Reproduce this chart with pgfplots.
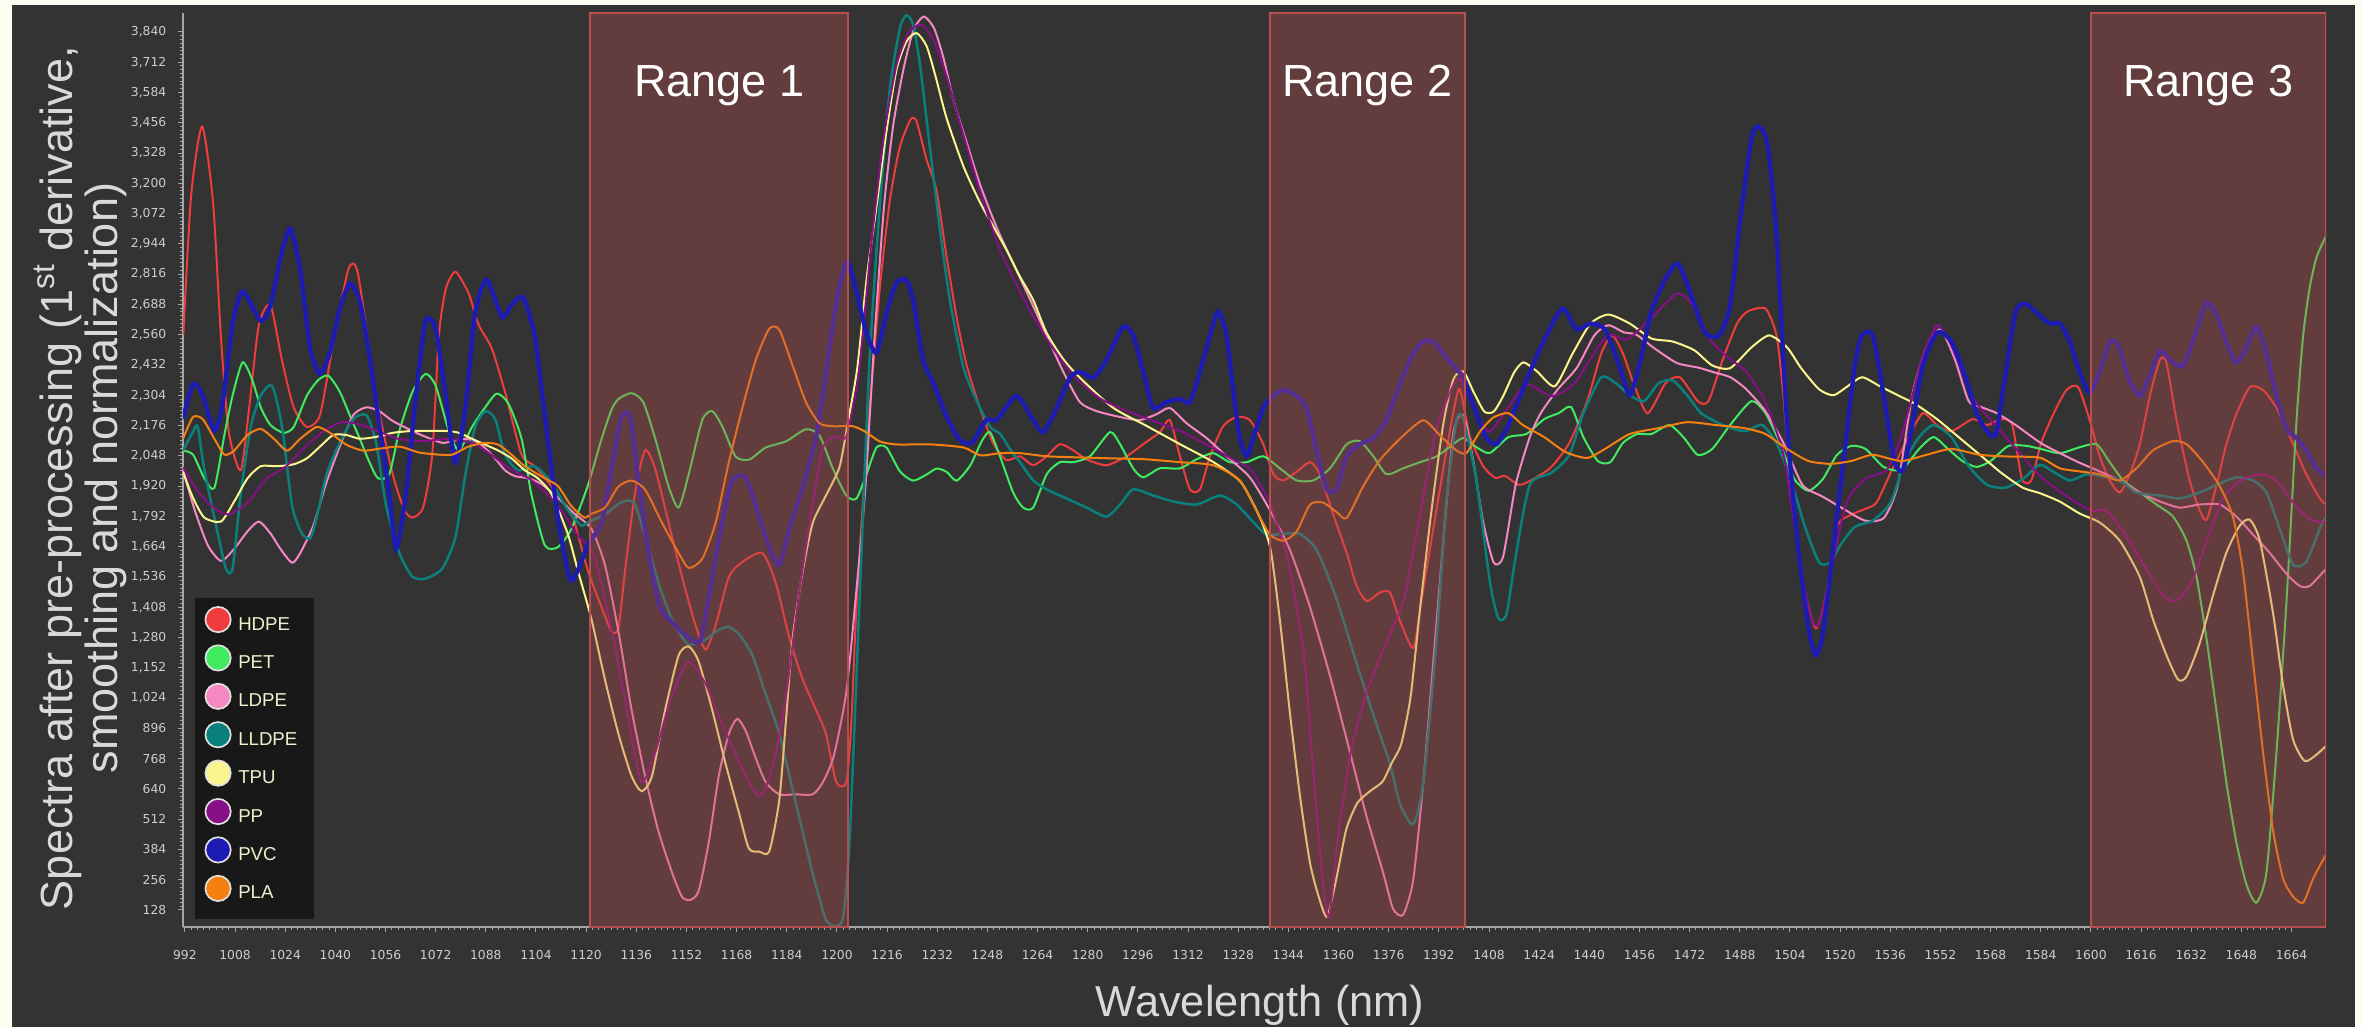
\documentclass[border=0pt]{standalone}
\usepackage{pgfplots}
\pgfplotsset{compat=1.18}
\usepackage{fontspec}
\setmainfont{Liberation Sans}
\newfontfamily\tickfont{DejaVu Sans}
\definecolor{creambg}{RGB}{252,252,240}
\definecolor{darkbg}{RGB}{51,51,51}
\definecolor{axisgray}{RGB}{165,165,165}
\definecolor{ticktext}{RGB}{205,205,205}
\definecolor{labelgray}{RGB}{217,217,217}
\definecolor{legendbg}{RGB}{24,24,24}
\definecolor{legendtext}{RGB}{240,240,205}
\definecolor{rangefill}{RGB}{190,80,80}
\definecolor{rangeedge}{RGB}{185,78,78}
\definecolor{legendring}{RGB}{225,225,225}
\definecolor{cHDPE}{RGB}{240,60,60}
\definecolor{cPET}{RGB}{64,235,96}
\definecolor{cLDPE}{RGB}{245,135,195}
\definecolor{cLLDPE}{RGB}{10,128,124}
\definecolor{cTPU}{RGB}{250,245,140}
\definecolor{cPP}{RGB}{135,15,135}
\definecolor{cPVC}{RGB}{28,28,180}
\definecolor{cPLA}{RGB}{245,128,15}
\begin{document}
\begin{tikzpicture}
\fill[creambg] (0pt,0pt) rectangle (708.6pt,308.1pt);
\fill[darkbg] (3.6pt,0pt) rectangle (706.5pt,306.6pt);
\begin{axis}[
  at={(54.9pt,30pt)}, anchor=south west,
  scale only axis, width=642.9pt, height=274.2pt,
  xmin=991.4, xmax=1675, ymin=56, ymax=3920,
  axis lines*=left,
  axis line style={-, draw=axisgray, line width=0.6pt},
  xtick={992,1008,...,1664},
  ytick={128,256,...,3840},
  minor x tick num=7, minor y tick num=7,
  tick align=outside,
  major tick length=1.5pt, minor tick length=0.8pt,
  tick style={draw=axisgray, line width=0.3pt},
  tick label style={font=\tickfont\fontsize{3.7}{4}\selectfont, text=ticktext},
  /pgf/number format/assume math mode=true,
  /pgf/number format/1000 sep={,},
  x tick label style={/pgf/number format/1000 sep={}, yshift=-2pt},
  every axis plot/.append style={line width=0.6pt, smooth, tension=0.4},
  legend cell align=left,
  legend style={at={(rel axis cs:0.0051,0.361)}, anchor=north west,
    fill=legendbg, draw=none, text=legendtext,
    font=\fontsize{5.6}{6.5}\selectfont,
    inner xsep=3pt, inner ysep=2.5pt, row sep=0.8pt,
    /tikz/every even column/.append style={column sep=5pt}},
  legend image code/.code={\filldraw[#1, draw=legendring, line width=0.5pt] (0.12cm,0.07cm) circle (3.8pt);},
]
\addplot[color=cHDPE] coordinates {(991.5,2560)(994,3150)(997.5,3440)(1001,3117)(1003.5,2550)(1006,2150)(1009.8,1987)(1012.5,2250)(1015.6,2602)(1019.3,2685)(1023,2450)(1026.7,2253)(1030.9,2170)(1035.1,2220)(1039,2500)(1044.1,2834)(1047.2,2818)(1053,2302)(1058.3,1970)(1062,1820)(1064.6,1787)(1068,1830)(1070.9,2053)(1073,2552)(1075.2,2752)(1078.3,2826)(1082.5,2735)(1085.7,2602)(1089.9,2502)(1094.1,2319)(1099.4,2053)(1103.6,2004)(1108.9,1920)(1115.2,1804)(1117.4,1714)(1120.6,1561)(1124.9,1408)(1128.1,1306)(1130.3,1320)(1132.4,1561)(1135.6,1892)(1138.8,2071)(1142,1994)(1146.3,1765)(1150.6,1535)(1154.9,1331)(1158.1,1229)(1161.3,1331)(1165.5,1535)(1169.8,1599)(1176.2,1637)(1180.5,1510)(1184.8,1280)(1189.1,1102)(1193.3,975)(1196.5,872)(1199.8,668)(1203,668)(1204.5,900)(1206.2,1400)(1209,2000)(1212,2500)(1214,2800)(1216.9,3130)(1220,3350)(1223.5,3470)(1225.4,3461)(1228.6,3300)(1231.8,3168)(1235,2887)(1238.2,2632)(1241.4,2430)(1245.6,2250)(1249.9,2100)(1254,2030)(1258.4,2046)(1262.6,2008)(1266.9,2046)(1271.1,2097)(1275.4,2071)(1279.6,2033)(1286,2008)(1292.4,2046)(1297.7,2097)(1303,2148)(1306.2,2199)(1309.4,2046)(1312.6,1906)(1315.8,1906)(1319,2046)(1323.2,2173)(1327.5,2212)(1331.7,2199)(1336,2097)(1339.2,1970)(1342.4,1944)(1346.6,1980)(1350.9,2021)(1354,1970)(1358.3,1800)(1362.6,1638)(1365.7,1500)(1369,1434)(1373.2,1470)(1376.4,1470)(1379.6,1350)(1383.8,1235)(1386,1400)(1389.1,1650)(1393.4,1991)(1396.6,2230)(1398.7,2330)(1401.9,2130)(1406.1,2005)(1410,1955)(1413.1,1963)(1417.6,1925)(1422.2,1950)(1427.9,2001)(1433.6,2102)(1439.3,2279)(1443.8,2481)(1447.3,2557)(1450.7,2481)(1454.1,2355)(1458.6,2228)(1464.3,2355)(1468.9,2380)(1474.6,2279)(1478,2279)(1482.6,2456)(1487.1,2607)(1490.5,2658)(1496.2,2670)(1499.7,2557)(1501.9,2304)(1504.2,1925)(1507.6,1546)(1512.2,1319)(1515.6,1470)(1519,1748)(1523.6,1799)(1528.1,1824)(1531.6,1850)(1536.1,1976)(1541.8,2127)(1546.4,2228)(1550.9,2178)(1555.5,2152)(1562.3,2203)(1566.9,2178)(1571.4,2203)(1574.9,2178)(1578,1950)(1581,1944)(1584,2097)(1588,2224)(1592.2,2326)(1595.9,2339)(1599.6,2199)(1602.8,2046)(1606,1944)(1609.2,1893)(1612.4,1970)(1615.6,2097)(1618.8,2301)(1622,2454)(1624.1,2441)(1627.3,2199)(1631.5,1944)(1634.7,1817)(1636.9,1778)(1640,1919)(1643.2,2097)(1646.4,2224)(1650.7,2339)(1654.9,2326)(1659.2,2250)(1664.5,2097)(1668.7,1970)(1673,1868)(1675,1842)};
\addplot[color=cPET] coordinates {(991.4,2070)(994.6,2053)(998.2,1953)(1001.4,1912)(1004.6,2136)(1007.2,2302)(1010.4,2443)(1013.5,2369)(1016.2,2253)(1019.3,2178)(1023.5,2145)(1026.7,2170)(1030.9,2302)(1034.6,2369)(1037.8,2386)(1041.4,2319)(1045.1,2203)(1047.8,2120)(1050.9,2020)(1053.6,1953)(1057.2,1970)(1060.4,2153)(1064.6,2319)(1068.8,2394)(1072,2344)(1076.2,2153)(1079.4,2070)(1083.6,2170)(1087.8,2253)(1091.5,2311)(1095.2,2269)(1099.4,2120)(1102.5,1887)(1106.8,1670)(1111,1662)(1115.2,1737)(1120.5,1920)(1124.7,2110)(1128,2240)(1130.3,2288)(1134.5,2313)(1138.2,2275)(1142,2122)(1146.3,1918)(1149.5,1829)(1152.7,1969)(1157,2198)(1160.2,2237)(1163.4,2173)(1167.7,2045)(1172,2032)(1177.3,2083)(1183.7,2109)(1190.1,2160)(1194.4,2134)(1198.7,1994)(1203,1880)(1206.2,1867)(1209.4,1969)(1212.6,2083)(1215.8,2083)(1220.1,1982)(1224.3,1943)(1228.6,1969)(1231.8,1994)(1235,1980)(1238.2,1943)(1242.5,2007)(1246.2,2110)(1248.8,2148)(1252,2046)(1256.2,1893)(1259.4,1829)(1262.6,1829)(1266.9,1970)(1271.1,2021)(1275.4,2021)(1280.7,2046)(1287.1,2148)(1290.3,2097)(1294.5,1995)(1297.7,1957)(1303,1995)(1309.4,1995)(1314.7,2033)(1320,2059)(1325.3,2021)(1330.7,2021)(1336,2046)(1341.3,1995)(1346.6,1944)(1351.9,1944)(1357.3,1995)(1362.6,2097)(1366.8,2110)(1371.1,2046)(1375.3,1970)(1380.6,1995)(1386,2021)(1391.3,2046)(1396.6,2097)(1399.8,2123)(1404,2084)(1408.3,2060)(1414.2,2127)(1419.9,2140)(1425.6,2203)(1430.2,2228)(1434.2,2254)(1438.1,2127)(1442.7,2026)(1446.7,2021)(1450.7,2102)(1455.2,2140)(1459.8,2140)(1465.5,2178)(1470,2127)(1474.6,2052)(1479.2,2077)(1484.9,2178)(1491.7,2279)(1496.2,2228)(1500.8,2102)(1505.4,1950)(1509.9,1900)(1514.5,1950)(1519,2052)(1523.6,2090)(1528.1,2077)(1533.9,2001)(1539.5,1988)(1545.2,2077)(1549.8,2127)(1554.4,2077)(1559,2026)(1563.5,2001)(1568,2026)(1573.7,2090)(1579.4,2090)(1584,2077)(1590.1,2059)(1596.4,2084)(1601.8,2097)(1606,2021)(1610.3,1944)(1615.6,1893)(1620.9,1842)(1626.2,1791)(1630.5,1689)(1633.7,1536)(1636.8,1281)(1640,975)(1643.2,669)(1646.4,414)(1649.6,236)(1652.8,159)(1656,287)(1659.2,797)(1662.4,1434)(1665.6,2199)(1667.7,2556)(1669.8,2760)(1672,2888)(1675,2977)};
\addplot[color=cLDPE] coordinates {(991.4,1987)(995.1,1820)(999.3,1670)(1003.5,1604)(1007.7,1654)(1012,1729)(1015.6,1770)(1019.3,1720)(1022.5,1654)(1026.2,1596)(1028.8,1637)(1033,1754)(1037.2,1937)(1041.4,2087)(1045.7,2220)(1049.9,2253)(1054.1,2236)(1058.3,2195)(1064.6,2153)(1068.8,2128)(1074.1,2103)(1077.3,2110)(1081.5,2120)(1085.7,2103)(1089.9,2053)(1094.1,1987)(1097.3,1962)(1101.5,1953)(1105.7,1929)(1111,1870)(1116.2,1804)(1121.7,1739)(1126,1586)(1130.3,1306)(1134.5,974)(1138.8,694)(1143,464)(1147.4,286)(1150.6,183)(1153.3,171)(1155.9,209)(1159.1,413)(1162.3,694)(1165.5,872)(1168.2,936)(1170.9,885)(1174.1,770)(1177.3,668)(1181.6,617)(1186.9,617)(1192.3,617)(1195.5,668)(1199,780)(1203,1050)(1206,1450)(1209,1900)(1212,2550)(1215,3100)(1218,3450)(1221.5,3700)(1224.5,3850)(1227.7,3905)(1231,3855)(1234,3729)(1237.2,3550)(1241.4,3372)(1245.7,3193)(1250.9,3015)(1256.2,2862)(1261.6,2709)(1266.9,2556)(1272.2,2403)(1277.5,2275)(1282.8,2237)(1290.3,2212)(1296.6,2199)(1302,2224)(1306.2,2250)(1311.5,2186)(1317.9,2123)(1324.3,2046)(1331.7,1957)(1338,1821)(1344.5,1650)(1350.8,1412)(1357.2,1122)(1363.6,798)(1368.9,525)(1374.2,287)(1377.4,133)(1380.6,108)(1383.8,253)(1387,662)(1390.2,1173)(1393.4,1684)(1396.6,2145)(1399.8,2221)(1403,2025)(1406.1,1770)(1409.5,1597)(1412.5,1622)(1416.5,1925)(1421,2127)(1424.5,2228)(1430,2330)(1436,2420)(1441.6,2557)(1446,2600)(1451,2570)(1455,2560)(1461,2500)(1468,2440)(1475,2420)(1480,2400)(1485,2380)(1490,2330)(1496,2240)(1502,2100)(1508,1925)(1514.5,1875)(1521,1824)(1528,1774)(1534,1786)(1538.4,1925)(1543,2304)(1547.5,2506)(1552,2582)(1556.6,2456)(1561,2279)(1565,2254)(1570,2228)(1576,2178)(1584,2102)(1590,2060)(1596,2021)(1602.8,1982)(1609,1944)(1615.6,1893)(1622,1855)(1628.3,1829)(1634.7,1842)(1641.1,1842)(1646.4,1791)(1651.7,1715)(1657,1638)(1662.4,1549)(1666.6,1498)(1669.8,1498)(1675,1570)};
\addplot[color=cLLDPE, line width=0.75pt] coordinates {(991.4,2070)(994.6,2150)(996.1,2170)(998.2,1990)(1002.5,1720)(1005.1,1571)(1007.2,1571)(1009.8,1887)(1013,2170)(1016.2,2302)(1019.8,2344)(1023,2170)(1026.2,1837)(1029.3,1720)(1032,1700)(1034.1,1790)(1037.2,1970)(1041.4,2103)(1045.7,2203)(1049.9,2220)(1053,2103)(1056.2,1837)(1060.4,1637)(1064.6,1537)(1068.8,1529)(1074.1,1571)(1078.3,1704)(1081.5,1970)(1084.6,2170)(1087.8,2236)(1091,2203)(1094.1,2053)(1098.3,1987)(1103.6,2004)(1108.9,1937)(1114.1,1820)(1118.4,1754)(1121,1770)(1126,1800)(1131,1850)(1135.4,1847)(1140,1650)(1144,1474)(1148,1340)(1152.6,1250)(1158,1270)(1162,1310)(1165.5,1325)(1169,1290)(1173,1206)(1177,1050)(1181.5,878)(1186.9,579)(1192.3,281)(1196.5,87)(1199.8,60)(1202,100)(1204,413)(1207.2,1433)(1210.4,2453)(1213.6,3091)(1216.9,3601)(1220.1,3856)(1222.2,3910)(1224.3,3870)(1226.5,3700)(1229.7,3346)(1232.9,3000)(1236.1,2700)(1240.4,2420)(1244.6,2280)(1248.9,2170)(1252.1,2140)(1256,2060)(1258.4,2021)(1262.6,1944)(1266.9,1906)(1273.2,1868)(1279.6,1829)(1286,1791)(1290.3,1842)(1294.5,1906)(1300.9,1880)(1307.3,1855)(1314.7,1842)(1322.2,1880)(1327.5,1842)(1332.9,1766)(1337.1,1715)(1342,1718)(1347.6,1718)(1353,1650)(1359.3,1446)(1365.7,1173)(1372,917)(1376.4,747)(1379.6,576)(1383.8,491)(1387,662)(1391.2,1258)(1394.4,1855)(1397.6,2196)(1399.8,2204)(1404,1940)(1408.3,1514)(1411,1361)(1413.6,1380)(1416.5,1622)(1421,1925)(1427.9,1976)(1433.6,2052)(1438.1,2228)(1443.8,2380)(1448.4,2355)(1452.9,2304)(1457.5,2279)(1462.1,2355)(1466.6,2367)(1471.2,2304)(1475.7,2228)(1482.6,2178)(1489.4,2152)(1495.1,2178)(1499.7,2102)(1504.2,1950)(1508.8,1748)(1513.3,1597)(1516.8,1597)(1520.2,1673)(1524.7,1748)(1530.4,1774)(1536.1,1850)(1540.7,2026)(1545.2,2127)(1549.8,2178)(1555.5,2127)(1561.2,2001)(1566.9,1925)(1572.6,1913)(1578.3,1950)(1583.7,2010)(1588,1980)(1593.3,1944)(1598.6,1970)(1604,1960)(1609.2,1944)(1614.5,1893)(1622,1880)(1628.3,1868)(1634.7,1893)(1641.1,1931)(1646.4,1957)(1651.7,1944)(1656,1893)(1660.2,1740)(1664.5,1587)(1668.7,1600)(1673,1740)(1675,1791)};
\addplot[color=cTPU] coordinates {(991.4,1980)(994.6,1870)(998.2,1787)(1003.5,1770)(1007.7,1854)(1012,1953)(1016.2,2004)(1021.4,2004)(1026.7,2012)(1030.9,2037)(1035.1,2087)(1039.3,2136)(1043.5,2136)(1047.8,2120)(1053,2128)(1058.3,2145)(1064.6,2153)(1075.2,2153)(1079.4,2145)(1083.6,2120)(1087.8,2095)(1092,2070)(1096.2,2037)(1100.4,1987)(1104.6,1953)(1108.9,1887)(1114.1,1720)(1117.4,1561)(1121.7,1357)(1126,1102)(1130.3,872)(1134.5,694)(1137.7,630)(1141,694)(1145.2,974)(1149.5,1204)(1152.7,1242)(1155.9,1178)(1160.2,974)(1164.5,745)(1168.7,541)(1171.9,388)(1175.2,375)(1178.4,375)(1181.6,592)(1183.7,923)(1185.9,1280)(1189.1,1561)(1192.3,1765)(1196.5,1880)(1200.8,2000)(1203.5,2190)(1206.5,2420)(1209.5,2800)(1212.6,3100)(1215.8,3420)(1219,3680)(1222.2,3800)(1225.4,3835)(1228.6,3780)(1231.5,3650)(1235,3474)(1240.4,3270)(1245.6,3120)(1250,3015)(1254.1,2918)(1258.4,2805)(1262.6,2707)(1266.8,2570)(1272,2460)(1277.5,2378)(1288.1,2251)(1298.7,2175)(1309.3,2098)(1320,2022)(1328.5,1942)(1333,1840)(1336,1752)(1338.5,1640)(1341.5,1330)(1344.5,960)(1347.8,600)(1351,320)(1354,170)(1356.4,100)(1359.3,260)(1362.5,470)(1366,580)(1370,630)(1374,670)(1377,750)(1380,830)(1383,1030)(1386,1400)(1389.5,1800)(1393.4,2180)(1396.6,2370)(1399.8,2405)(1403,2320)(1406.5,2235)(1409.5,2235)(1412.5,2300)(1416,2400)(1419,2443)(1423.3,2405)(1429,2342)(1434.7,2481)(1440.4,2607)(1446.1,2645)(1452.9,2607)(1459.8,2544)(1466.6,2531)(1473.5,2494)(1479.2,2430)(1484.9,2418)(1491.7,2506)(1497.4,2557)(1503.1,2506)(1507.6,2418)(1513.3,2329)(1517.9,2304)(1522.4,2342)(1527,2380)(1532.7,2342)(1538.4,2304)(1544.1,2266)(1550.9,2203)(1557.8,2127)(1564.6,2052)(1571.4,1976)(1578.3,1913)(1583.7,1890)(1590,1855)(1596.4,1804)(1602.8,1766)(1609.2,1689)(1615.6,1536)(1619.8,1357)(1624.1,1205)(1627.8,1102)(1630.5,1115)(1634.7,1256)(1639,1460)(1643.2,1638)(1647.5,1753)(1650.7,1778)(1653.9,1689)(1658.1,1383)(1661.3,1077)(1664.5,848)(1668.2,758)(1671.9,784)(1675,822)};
\addplot[color=cPP] coordinates {(991.4,2000)(996,1900)(1001,1830)(1006,1800)(1012,1850)(1018,1950)(1024,2000)(1030,2080)(1036,2150)(1042,2190)(1048,2180)(1054,2150)(1060,2120)(1068,2110)(1076,2120)(1084,2100)(1090,2050)(1096,1990)(1102,1950)(1108,1880)(1113,1800)(1117.2,1713)(1122.6,1623)(1127.9,1325)(1133.3,952)(1137.6,669)(1141.9,788)(1147.2,1027)(1152.6,1176)(1158,1086)(1162.2,952)(1168.7,758)(1175.1,609)(1179.4,728)(1183.7,1027)(1188,1474)(1192.3,1847)(1195.5,2080)(1199,2130)(1203,2130)(1207,2400)(1211,2950)(1215,3400)(1219,3700)(1223,3840)(1227,3870)(1231,3800)(1235,3650)(1240,3420)(1246,3150)(1252,2920)(1260,2700)(1268,2520)(1276,2380)(1284,2290)(1292,2240)(1300,2200)(1310,2150)(1320,2080)(1328,2020)(1332,1990)(1338,1850)(1344,1600)(1349,1200)(1352,700)(1355,250)(1357,100)(1360,450)(1364,800)(1369,1050)(1375,1250)(1381,1450)(1386,1800)(1391,2150)(1396,2330)(1399,2370)(1403,2250)(1408,2150)(1414,2250)(1420,2350)(1428,2300)(1435,2350)(1440,2450)(1446,2560)(1452,2540)(1460,2633)(1468,2734)(1473,2683)(1479,2531)(1485,2456)(1490,2405)(1496,2279)(1502,2050)(1506,1700)(1510,1400)(1513,1330)(1517,1550)(1522,1850)(1528,1950)(1535,1990)(1540,2150)(1546,2450)(1551,2600)(1556,2500)(1562,2300)(1568,2200)(1576,2080)(1584,1960)(1592,1880)(1600,1816)(1605,1816)(1611,1714)(1618,1562)(1623,1460)(1627,1434)(1632,1511)(1637,1689)(1642,1867)(1648,1944)(1654,1970)(1659,1944)(1665,1842)(1670,1778)(1675,1766)};
\addplot[color=cPVC, line width=1.3pt] coordinates {(991.4,2203)(994.6,2352)(997.7,2302)(1001.4,2153)(1004,2269)(1007.2,2602)(1010.4,2743)(1016.2,2618)(1019.3,2685)(1022.5,2884)(1025.6,3009)(1028.8,2834)(1032,2502)(1035.1,2394)(1038.3,2485)(1041.4,2668)(1044.6,2776)(1047.8,2702)(1050.9,2469)(1054.1,2170)(1057.2,1887)(1059.4,1654)(1062.5,1887)(1065.7,2302)(1068.8,2618)(1072,2585)(1075.2,2302)(1078.3,2020)(1081.5,2253)(1084.6,2652)(1088.3,2793)(1093.1,2635)(1096.2,2685)(1099.9,2718)(1103.6,2552)(1106.8,2220)(1111,1787)(1115.2,1521)(1120.5,1670)(1124.9,1765)(1128.1,1994)(1131.3,2211)(1134,2211)(1136.7,1943)(1139.9,1637)(1143.6,1408)(1148.4,1331)(1152.7,1280)(1156.5,1268)(1160.2,1535)(1163.4,1765)(1166.6,1943)(1170.9,1956)(1175.2,1790)(1178.4,1663)(1181.6,1586)(1184.8,1739)(1189.1,1918)(1193.3,2122)(1196.5,2402)(1200.3,2734)(1203.3,2870)(1206.3,2737)(1209.4,2568)(1212.6,2483)(1215.8,2650)(1219,2780)(1222.2,2790)(1224.3,2707)(1227.5,2454)(1230.7,2356)(1235,2213)(1239.2,2115)(1243,2103)(1247.7,2200)(1250.9,2199)(1257.3,2301)(1262.6,2199)(1265.8,2148)(1270.1,2250)(1274.3,2378)(1277.5,2403)(1281.8,2378)(1286,2454)(1291.3,2594)(1294.5,2556)(1297.7,2403)(1300.9,2250)(1305.1,2275)(1309.4,2288)(1312.6,2275)(1315.8,2403)(1319,2556)(1321.6,2658)(1324.3,2556)(1326.4,2326)(1328.5,2123)(1330.7,2046)(1332.8,2123)(1336,2250)(1339.2,2301)(1342.4,2326)(1346.6,2301)(1349.8,2250)(1353,2071)(1356.2,1906)(1359.4,1906)(1362.6,2046)(1366.8,2097)(1371.1,2123)(1375.3,2199)(1379.6,2352)(1383.8,2480)(1387,2531)(1390.2,2531)(1393.4,2480)(1396.6,2429)(1399.8,2378)(1404,2224)(1407.2,2123)(1410.4,2097)(1414.2,2178)(1418.8,2329)(1424.5,2506)(1431.3,2670)(1435.9,2582)(1440.4,2607)(1445,2582)(1449.5,2430)(1452.9,2304)(1456.4,2456)(1459.8,2658)(1464.3,2797)(1468.3,2860)(1472.3,2734)(1476.9,2569)(1481.4,2557)(1484.9,2683)(1488.3,3062)(1491.7,3390)(1494,3441)(1496.8,3365)(1499.7,2986)(1503.1,2178)(1506.5,1673)(1509.9,1319)(1512.2,1205)(1514.5,1294)(1517.9,1673)(1521.3,2052)(1524.7,2430)(1527,2557)(1530.4,2557)(1533.9,2304)(1537.3,2026)(1540.1,1988)(1543,2178)(1546.4,2430)(1550.9,2569)(1555.5,2531)(1560,2380)(1563.5,2228)(1566.9,2152)(1569.7,2140)(1572.6,2380)(1576,2658)(1579.4,2690)(1583.7,2640)(1586.9,2607)(1590.1,2607)(1593.3,2530)(1596.4,2403)(1599.6,2314)(1602.8,2403)(1606,2530)(1608.7,2518)(1611.9,2378)(1615.6,2301)(1618.8,2390)(1622,2492)(1625.2,2454)(1629.4,2428)(1633.7,2581)(1636.8,2696)(1640,2645)(1643.2,2530)(1646.4,2441)(1649.6,2505)(1652.8,2594)(1656,2479)(1659.2,2301)(1662.4,2161)(1665.6,2123)(1668.7,2071)(1671.9,1995)(1675,1965)};
\addplot[color=cPLA] coordinates {(991.4,2120)(994.6,2212)(997.7,2203)(1001.4,2120)(1004.6,2053)(1007.7,2070)(1012,2136)(1016.2,2162)(1020.4,2120)(1024.6,2070)(1028.8,2120)(1034.1,2170)(1038.3,2145)(1043.5,2095)(1048.8,2070)(1054.1,2078)(1060.4,2087)(1066.7,2062)(1073,2053)(1077.3,2053)(1082.5,2087)(1087.8,2103)(1092,2095)(1096.2,2053)(1100.4,2004)(1106.8,1953)(1111,1920)(1115.2,1837)(1119.4,1787)(1121.7,1803)(1126,1829)(1130.3,1918)(1134.5,1943)(1138.8,1905)(1144.2,1765)(1149.5,1637)(1152.7,1574)(1157,1612)(1161.3,1765)(1165.5,2020)(1169.8,2249)(1174.1,2453)(1178.4,2585)(1181.6,2581)(1185.9,2428)(1190.1,2275)(1194.4,2186)(1198.7,2173)(1205.1,2173)(1209.4,2147)(1213.6,2109)(1219,2096)(1230,2096)(1240.4,2083)(1245.7,2050)(1252,2059)(1258.4,2059)(1266.9,2046)(1277.5,2041)(1288,2037)(1298.7,2033)(1309.4,2021)(1320,2008)(1328.5,1944)(1333.8,1817)(1338.1,1715)(1342.4,1689)(1346.6,1727)(1350.9,1842)(1355.1,1850)(1359.4,1810)(1362.6,1785)(1367.9,1920)(1373.2,2030)(1379.6,2120)(1387,2198)(1392.3,2135)(1397.7,2070)(1400.8,2060)(1405.1,2150)(1409.4,2210)(1414.2,2228)(1418.8,2178)(1425.6,2127)(1432.4,2064)(1439.3,2039)(1445,2077)(1452.9,2140)(1462.1,2165)(1471.2,2190)(1480.3,2178)(1489.4,2165)(1496.2,2140)(1503.1,2077)(1509.9,2026)(1516.8,2014)(1523.6,2026)(1530.4,2052)(1539.5,2026)(1547.5,2052)(1555.5,2077)(1564.6,2052)(1573.7,2045)(1583.7,2040)(1590.1,1995)(1596.4,1982)(1602.8,1970)(1609.2,1944)(1614.5,1995)(1619.8,2071)(1626.2,2110)(1630.5,2097)(1635.8,2021)(1641.1,1919)(1645.3,1791)(1648.5,1562)(1651.7,1179)(1654.9,797)(1658.1,465)(1661.3,261)(1664.5,185)(1667.7,159)(1670.9,261)(1675,363)};
\legend{HDPE,PET,LDPE,LLDPE,TPU,PP,PVC,PLA}
\fill[rangefill, fill opacity=0.35] (axis cs:1121.3,56) rectangle (axis cs:1203.5,3920);
\fill[rangefill, fill opacity=0.35] (axis cs:1338,56) rectangle (axis cs:1400.3,3920);
\fill[rangefill, fill opacity=0.35] (axis cs:1600,56) rectangle (axis cs:1675,3920);
\draw[rangeedge, line width=0.6pt] (axis cs:1121.3,56) rectangle (axis cs:1203.5,3920);
\draw[rangeedge, line width=0.6pt] (axis cs:1338,56) rectangle (axis cs:1400.3,3920);
\draw[rangeedge, line width=0.6pt] (axis cs:1600,56) rectangle (axis cs:1675,3920);
\node[anchor=base, text=white, font=\fontsize{13.5}{15}\selectfont] at (axis cs:1162.4,3569) {Range 1};
\node[anchor=base, text=white, font=\fontsize{13.5}{15}\selectfont] at (axis cs:1369.2,3569) {Range 2};
\node[anchor=base, text=white, font=\fontsize{13.5}{15}\selectfont] at (axis cs:1637.5,3569) {Range 3};
\end{axis}
\node[rotate=90, anchor=base, text=labelgray, font=\fontsize{13.5}{15}\selectfont] at (21.6pt,164.7pt) {Spectra after pre-processing (1\textsuperscript{st} derivative,};
\node[rotate=90, anchor=base, text=labelgray, font=\fontsize{13.5}{15}\selectfont] at (35.1pt,164.7pt) {smoothing and normalization)};
\node[anchor=base, text=labelgray, font=\fontsize{13}{15}\selectfont] at (378pt,3.2pt) {Wavelength (nm)};
\pgfresetboundingbox
\path[use as bounding box] (0pt,0pt) rectangle (708.6pt,308.1pt);
\end{tikzpicture}
\end{document}
